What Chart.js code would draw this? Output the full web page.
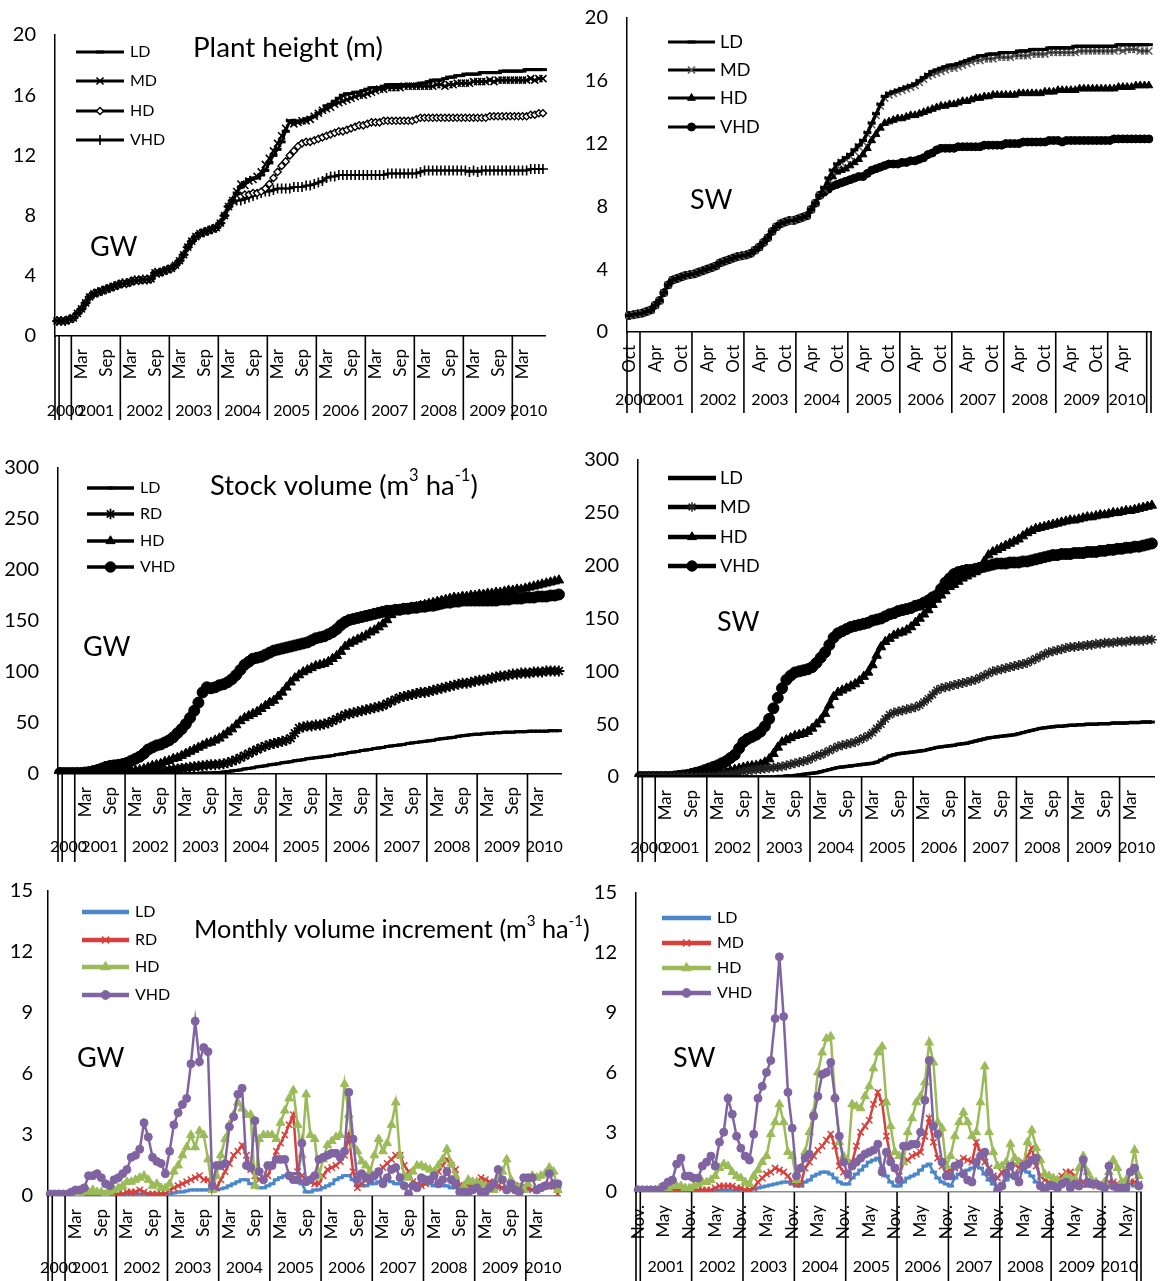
<!DOCTYPE html>
<html>
<head>
<meta charset="utf-8">
<title>Plant height, stock volume and monthly volume increment</title>
<script src="https://cdn.jsdelivr.net/npm/chart.js@4.4.1/dist/chart.umd.min.js"></script>
<style>
  html, body { margin: 0; padding: 0; background: #fff; }
  #wrap { position: relative; width: 1162px; height: 1281px; overflow: hidden; }
  #wrap canvas { position: absolute; }
</style>
</head>
<body>
<div id="wrap"></div>
<script>
// ---- axis categories ----
const monthNames = ['Jan', 'Feb', 'Mar', 'Apr', 'May', 'Jun', 'Jul', 'Aug', 'Sep', 'Oct', 'Nov', 'Dec'];
const years = ['2000', '2001', '2002', '2003', '2004', '2005', '2006', '2007', '2008', '2009', '2010'];
// [year label, first month (-1 = unnamed), number of months]
const gwGroups = [['', -1, 1], ['2000', 9, 3]].concat(years.slice(1, 10).map(y => [y, 0, 12]), [['2010', 0, 8]]);
const swHeightGroups = [['2000', 9, 3]].concat(years.slice(1, 10).map(y => [y, 0, 12]), [['2010', 0, 9], ['', -1, 1]]);
const swIncGroups = [['', 10, 1]].concat(years.slice(1, 10).map(y => [y, 11, 12]), [['2010', 11, 8], ['', -1, 1]]);
const gwTickText = { Mar: 'Mar', Sep: 'Sep' };
const swHeightTickText = { Apr: 'Apr', Oct: 'Oct' };
const swIncTickText = { May: 'May', Nov: 'Nov.' };

// ---- plant height, GW (m) ----
const gwHeightStart = [1.0, 1.0, 1.0, 1.1,
  1.2, 1.5, 1.8, 2.2, 2.6, 2.8, 2.9, 3.0, 3.1, 3.2, 3.3, 3.4,
  3.5, 3.5, 3.6, 3.7, 3.7, 3.75, 3.75, 3.8, 4.2, 4.2, 4.3, 4.4,
  4.5, 4.7, 5.0, 5.4, 5.9, 6.3, 6.6, 6.8, 6.9, 7.0, 7.1, 7.2,
  7.5, 8.0, 8.6, 9.0];
const gwHeightLD = gwHeightStart.concat([9.5, 9.9, 10.2, 10.4, 10.5, 10.5, 10.7, 11.0,
  11.5, 12.0, 12.4, 12.9, 13.6, 14.3, 14.3, 14.2, 14.3, 14.4, 14.5, 14.6,
  14.8, 15.0, 15.3, 15.4, 15.6, 15.8, 16.0, 16.1, 16.1, 16.2, 16.2, 16.3,
  16.4, 16.5, 16.5, 16.5, 16.6, 16.7, 16.7, 16.7, 16.7, 16.7, 16.7, 16.7,
  16.7, 16.8, 16.8, 16.9, 17.0, 17.0, 17.0, 17.1, 17.2, 17.2, 17.3, 17.3,
  17.4, 17.4, 17.4, 17.4, 17.5, 17.5, 17.5, 17.5, 17.5, 17.6, 17.6, 17.6,
  17.6, 17.6, 17.6, 17.7, 17.7, 17.7, 17.7, 17.7]);
const gwHeightMD = gwHeightStart.concat([9.6, 10.1, 10.0, 10.3, 10.4, 10.6, 10.9, 11.4,
  11.8, 12.3, 12.8, 13.3, 13.8, 14.2, 14.1, 14.2, 14.3, 14.3, 14.4, 14.6,
  14.8, 15.0, 15.1, 15.2, 15.4, 15.5, 15.6, 15.7, 15.8, 15.9, 16.0, 16.0,
  16.1, 16.2, 16.3, 16.4, 16.4, 16.5, 16.5, 16.5, 16.5, 16.6, 16.6, 16.6,
  16.6, 16.6, 16.6, 16.6, 16.6, 16.7, 16.7, 16.6, 16.7, 16.7, 16.8, 16.8,
  16.8, 16.8, 16.9, 16.9, 16.9, 16.9, 17.0, 16.9, 17.0, 17.0, 17.0, 17.0,
  17.0, 17.0, 17.0, 17.0, 17.1, 17.0, 17.1, 17.1]);
const gwHeightHD = gwHeightStart.concat([9.2, 9.3, 9.4, 9.4, 9.5, 9.5, 9.6, 9.8,
  10.1, 10.5, 10.9, 11.3, 11.6, 12.0, 12.3, 12.6, 12.8, 12.9, 12.9, 13.0,
  13.1, 13.2, 13.3, 13.4, 13.5, 13.6, 13.6, 13.7, 13.8, 13.9, 14.0, 14.0,
  14.1, 14.2, 14.2, 14.2, 14.3, 14.3, 14.3, 14.3, 14.3, 14.3, 14.3, 14.3,
  14.4, 14.5, 14.5, 14.5, 14.5, 14.5, 14.5, 14.5, 14.5, 14.5, 14.5, 14.5,
  14.5, 14.5, 14.5, 14.5, 14.5, 14.5, 14.6, 14.6, 14.6, 14.6, 14.6, 14.6,
  14.6, 14.6, 14.6, 14.6, 14.7, 14.7, 14.8, 14.8]);
const gwHeightVHD = gwHeightStart.concat([9.0, 9.0, 9.1, 9.2, 9.3, 9.4, 9.5, 9.6,
  9.6, 9.7, 9.8, 9.8, 9.8, 9.8, 9.9, 9.9, 9.9, 10.0, 10.0, 10.1,
  10.2, 10.3, 10.5, 10.6, 10.6, 10.7, 10.7, 10.7, 10.7, 10.7, 10.7, 10.7,
  10.7, 10.7, 10.7, 10.7, 10.7, 10.8, 10.8, 10.8, 10.8, 10.8, 10.8, 10.8,
  10.8, 10.9, 11.0, 11.0, 11.0, 11.0, 11.0, 11.0, 11.0, 11.0, 11.0, 11.0,
  11.0, 10.9, 11.0, 10.9, 11.0, 11.0, 11.0, 11.0, 11.0, 11.0, 11.0, 11.0,
  11.0, 11.0, 11.0, 11.0, 11.1, 11.1, 11.1, 11.1]);

// ---- plant height, SW (m) ----
const swHeightStart = [1.05, 1.1, 1.15,
  1.2, 1.3, 1.4, 1.7, 2.0, 2.5, 3.0, 3.3, 3.4, 3.5, 3.6, 3.65,
  3.7, 3.8, 3.9, 4.0, 4.1, 4.2, 4.4, 4.5, 4.6, 4.7, 4.8, 4.85,
  4.9, 5.0, 5.2, 5.4, 5.7, 6.0, 6.4, 6.7, 6.9, 7.0, 7.1, 7.1,
  7.2, 7.3, 7.4, 7.8, 8.2, 8.7];
const swHeightLD = swHeightStart.concat([9.2, 9.8, 10.3, 10.7, 10.9, 11.1,
  11.3, 11.6, 11.9, 12.2, 12.7, 13.3, 13.9, 14.5, 15.0, 15.2, 15.3, 15.4,
  15.5, 15.6, 15.7, 15.8, 16.0, 16.2, 16.4, 16.6, 16.7, 16.8, 16.9, 17.0,
  17.0, 17.1, 17.2, 17.3, 17.4, 17.5, 17.6, 17.6, 17.7, 17.7, 17.7, 17.8,
  17.8, 17.8, 17.8, 17.9, 17.9, 17.9, 18.0, 18.0, 18.0, 18.0, 18.1, 18.1,
  18.1, 18.1, 18.1, 18.1, 18.2, 18.2, 18.2, 18.2, 18.2, 18.2, 18.2, 18.2,
  18.2, 18.2, 18.3, 18.3, 18.3, 18.3, 18.3, 18.3, 18.3, 18.3]);
const swHeightMD = swHeightStart.concat([9.1, 9.7, 10.2, 10.6, 10.8, 11.0,
  11.2, 11.5, 11.8, 12.1, 12.6, 13.2, 13.8, 14.4, 14.9, 15.1, 15.2, 15.3,
  15.4, 15.5, 15.6, 15.7, 15.9, 16.1, 16.3, 16.4, 16.5, 16.6, 16.7, 16.8,
  16.8, 16.9, 17.0, 17.1, 17.2, 17.3, 17.3, 17.4, 17.4, 17.4, 17.5, 17.5,
  17.5, 17.5, 17.6, 17.6, 17.6, 17.6, 17.7, 17.7, 17.7, 17.7, 17.8, 17.8,
  17.8, 17.8, 17.8, 17.8, 17.8, 17.9, 17.9, 17.9, 17.9, 17.9, 17.9, 17.9,
  17.9, 17.9, 18.0, 17.9, 18.0, 18.0, 18.0, 17.9, 17.9, 17.9]);
const swHeightHD = swHeightStart.concat([9.0, 9.5, 9.9, 10.2, 10.3, 10.4,
  10.6, 10.8, 11.0, 11.3, 11.7, 12.2, 12.6, 13.0, 13.3, 13.4, 13.5, 13.6,
  13.6, 13.7, 13.8, 13.8, 13.9, 14.0, 14.1, 14.2, 14.3, 14.4, 14.4, 14.5,
  14.5, 14.6, 14.7, 14.7, 14.8, 14.9, 14.9, 15.0, 15.0, 15.1, 15.1, 15.1,
  15.1, 15.1, 15.1, 15.2, 15.2, 15.2, 15.2, 15.2, 15.2, 15.3, 15.3, 15.3,
  15.4, 15.4, 15.4, 15.4, 15.4, 15.5, 15.5, 15.5, 15.5, 15.5, 15.5, 15.5,
  15.5, 15.5, 15.6, 15.6, 15.6, 15.6, 15.7, 15.7, 15.7, 15.7]);
const swHeightVHD = swHeightStart.concat([8.9, 9.1, 9.3, 9.4, 9.5, 9.6,
  9.7, 9.8, 9.9, 9.9, 10.1, 10.3, 10.4, 10.5, 10.6, 10.7, 10.7, 10.7,
  10.8, 10.8, 10.9, 10.9, 11.0, 11.1, 11.3, 11.4, 11.6, 11.7, 11.7, 11.7,
  11.7, 11.8, 11.8, 11.8, 11.8, 11.8, 11.8, 11.9, 11.9, 11.9, 11.9, 11.9,
  12.0, 12.0, 12.0, 12.0, 12.1, 12.1, 12.1, 12.1, 12.1, 12.1, 12.2, 12.2,
  12.2, 12.1, 12.2, 12.2, 12.2, 12.2, 12.2, 12.2, 12.2, 12.2, 12.2, 12.2,
  12.2, 12.3, 12.3, 12.3, 12.3, 12.3, 12.3, 12.3, 12.3, 12.3]);

// ---- stock volume, GW (m3 ha-1) ----
const gwVolLD = [0, 0, 0, 0,
  0, 0, 0, 0, 0, 0, 0, 0, 0, 0, 0, 0,
  0, 0, 0, 0, 0, 0, 0, 0, 0, 0, 0, 0,
  0, 0, 0, 0.5, 0.5, 0.5, 1, 1, 1, 1.5, 1.5, 2,
  2.5, 3, 3.5, 4, 5, 5.5, 6, 7, 7.5, 8, 9, 9.5,
  10, 11, 11.5, 12, 13, 13.5, 14, 15, 15.5, 16, 16.5, 17,
  17.5, 18, 19, 19.5, 20, 21, 21.5, 22, 23, 23.5, 24, 25,
  25.5, 26, 27, 27.5, 28, 28.5, 29, 30, 30.5, 31, 31.5, 32,
  32.5, 33, 34, 34.5, 35, 35.5, 36, 37, 37.5, 38, 38.5, 39,
  39, 39.5, 40, 40, 40.5, 40.5, 41, 41, 41, 41.5, 41.5, 41.5,
  42, 42, 42, 42, 42, 42.5, 42.5, 42.5];
const gwVolRD = [0, 0, 0, 0,
  0, 0, 0, 0, 0, 0, 0, 0, 0, 0, 0.5, 0.5,
  0.5, 1, 1, 1.5, 2, 2, 2.5, 3, 3, 3.5, 4, 4.5,
  5, 5.5, 6, 6.5, 7, 7.5, 8, 8.5, 9, 9, 9.5, 10,
  11, 12.5, 14, 16, 18, 20, 22, 24, 26, 27.5, 29, 30,
  31, 32, 33, 35, 40, 45, 46, 47, 47, 48, 48, 49,
  50, 52, 54, 56, 58, 59, 60, 61, 62, 63, 64, 65,
  66, 67, 69, 71, 73, 75, 76, 77, 78, 79, 80, 80,
  81, 82, 83, 84, 85, 86, 87, 88, 89, 89, 90, 91,
  92, 92, 93, 94, 95, 96, 96, 97, 98, 98, 99, 99,
  99, 100, 100, 100, 101, 101, 101, 101];
const gwVolHD = [0, 0, 0, 0,
  0, 0, 0, 0, 0.5, 0.5, 1, 1, 1, 1.5, 1.5, 2,
  2.5, 3, 3.5, 4, 5, 6.5, 8, 9, 10, 12, 13, 15,
  16, 18, 20, 22, 24, 26, 28, 30, 31, 33, 35, 38,
  41, 44, 48, 52, 55, 57, 59, 61, 64, 67, 70, 72,
  76, 80, 85, 90, 94, 97, 100, 102, 104, 106, 107, 108,
  110, 113, 116, 120, 125, 128, 130, 132, 134, 136, 139, 141,
  144, 147, 151, 156, 160, 161, 162, 162, 163, 164, 165, 166,
  167, 168, 169, 170, 171, 172, 173, 173, 174, 174, 175, 175,
  176, 176, 177, 177, 178, 178, 179, 180, 180, 181, 181, 182,
  183, 184, 185, 186, 187, 188, 189, 190];
const gwVolVHD = [1, 1, 1, 1,
  1, 1, 1.5, 2, 3, 4, 5.5, 7, 8, 8.5, 9, 9.8,
  11, 13, 15, 17, 20, 24, 26, 28, 29, 31, 33, 36,
  40, 44, 49, 55, 62, 70, 80, 85, 84, 85, 87, 88,
  90, 93, 97, 102, 107, 110, 113, 114, 115, 117, 119, 121,
  122, 123, 124, 125, 126, 127, 128, 129, 131, 133, 134, 135,
  137, 139, 142, 146, 149, 151, 152, 153, 154, 155, 156, 157,
  158, 159, 160, 160, 161, 161, 162, 162, 163, 163, 164, 164,
  165, 165, 166, 167, 168, 168, 169, 169, 170, 170, 170, 170,
  170, 170, 170, 170, 170, 171, 171, 171, 172, 172, 172, 173,
  173, 173, 174, 174, 174, 175, 175, 176];

// ---- stock volume, SW (m3 ha-1) ----
const swVolLD = [0, 0, 0, 0,
  0, 0, 0, 0, 0, 0, 0, 0, 0, 0, 0, 0,
  0, 0, 0, 0, 0, 0, 0, 0, 0, 0, 0, 0,
  0, 0, 0, 0, 0.5, 0.5, 1, 1, 1.5, 2, 2.5, 3,
  3.5, 4, 5, 6, 7, 8, 9, 9.5, 10, 10.5, 11, 11.5,
  12, 12.5, 13, 14, 16, 18, 20, 21, 22, 22.5, 23, 23.5,
  24, 24.5, 25, 26, 27, 28, 28.5, 29, 29.5, 30, 31, 31.5,
  32, 33, 34, 35, 36, 37, 37.5, 38, 38.5, 39, 39.5, 40,
  41, 42, 43, 44, 45, 46, 46.5, 47, 47.5, 48, 48, 48.5,
  49, 49, 49.5, 49.5, 50, 50, 50, 50.5, 50.5, 50.5, 51, 51,
  51, 51, 51.5, 51.5, 51.5, 52, 52, 52];
const swVolMD = [0, 0, 0, 0,
  0, 0, 0, 0, 0, 0, 0, 0, 0, 0, 0, 0,
  0.5, 0.5, 1, 1.5, 2, 2.5, 3, 4, 5, 6, 6.5, 7,
  7.5, 8, 8.5, 9, 9.5, 10, 11, 12, 13, 14, 15, 16,
  18, 20, 21, 23, 25, 27, 29, 30, 31, 32, 33, 35,
  37, 39, 42, 46, 50, 55, 59, 61, 62, 63, 64, 65,
  66, 68, 71, 74, 78, 82, 84, 85, 86, 87, 88, 89,
  90, 91, 92, 94, 96, 98, 100, 101, 102, 103, 104, 105,
  106, 107, 108, 110, 112, 114, 116, 118, 119, 120, 121, 122,
  123, 123, 124, 124, 125, 125, 126, 126, 127, 127, 127, 128,
  128, 128, 129, 129, 129, 129, 130, 130];
const swVolHD = [0, 0, 0, 0,
  0, 0, 0, 0, 0, 0, 0.5, 0.5, 1, 1, 1.5, 2,
  2.5, 3, 3.5, 4, 5, 6, 7, 8, 9, 10, 10.5, 11,
  12, 14, 17, 22, 28, 33, 35, 37, 39, 40, 41, 43,
  46, 50, 54, 60, 68, 76, 80, 82, 84, 86, 88, 91,
  95, 99, 106, 115, 123, 128, 131, 134, 136, 137, 139, 142,
  146, 150, 154, 158, 163, 168, 172, 176, 180, 182, 185, 188,
  190, 192, 194, 198, 204, 210, 213, 215, 217, 219, 221, 223,
  225, 228, 231, 233, 235, 236, 237, 238, 239, 240, 241, 242,
  243, 243, 244, 245, 246, 246, 247, 248, 248, 249, 250, 250,
  251, 252, 252, 253, 254, 255, 256, 257];
const swVolVHD = [0, 0, 0, 0,
  0, 0, 0, 0, 0.5, 1, 1.5, 2, 3, 4, 5, 6.5,
  8, 9.5, 11, 13, 15, 18, 21, 27, 33, 36, 38, 40,
  43, 48, 55, 65, 75, 84, 92, 96, 99, 100, 101, 102,
  104, 108, 113, 118, 125, 132, 136, 138, 140, 142, 143, 144,
  145, 146, 148, 149, 150, 152, 154, 155, 157, 158, 159, 160,
  162, 163, 165, 167, 170, 172, 178, 184, 188, 192, 194, 195,
  196, 196, 197, 198, 199, 200, 201, 202, 202, 202, 203, 203,
  203, 204, 204, 205, 206, 207, 208, 209, 210, 210, 211, 211,
  211, 212, 212, 212, 213, 213, 213, 214, 214, 215, 215, 216,
  216, 217, 217, 218, 218, 219, 220, 221];

// ---- monthly volume increment, GW (m3 ha-1) ----
const gwIncLD = [0.05, 0.05, 0.05, 0.05,
  0.05, 0.05, 0.05, 0.05, 0.05, 0.05, 0.05, 0.05, 0.05, 0.05, 0.05, 0.05,
  0.05, 0.05, 0.1, 0.1, 0.1, 0.1, 0.1, 0.1, 0.1, 0.1, 0.1, 0.1,
  0.1, 0.15, 0.2, 0.2, 0.25, 0.3, 0.3, 0.3, 0.3, 0.3, 0.3, 0.3,
  0.35, 0.4, 0.5, 0.6, 0.7, 0.8, 0.8, 0.6, 0.5, 0.4, 0.4, 0.5,
  0.6, 0.8, 0.9, 1.0, 1.1, 1.1, 1.1, 0.6, 0.2, 0.2, 0.3, 0.3,
  0.4, 0.5, 0.6, 0.8, 0.9, 1.0, 1.0, 0.8, 0.5, 0.5, 0.5, 0.6,
  0.6, 0.7, 0.8, 0.8, 0.7, 0.6, 0.6, 0.5, 0.5, 0.5, 0.6, 0.6,
  0.6, 0.6, 0.5, 0.5, 0.5, 0.5, 0.4, 0.4, 0.3, 0.3, 0.3, 0.3,
  0.3, 0.3, 0.3, 0.3, 0.3, 0.4, 0.4, 0.4, 0.3, 0.3, 0.3, 0.3,
  0.3, 0.3, 0.4, 0.4, 0.4, 0.4, 0.4, 0.4];
const gwIncRD = [0.05, 0.05, 0.05, 0.05,
  0.05, 0.05, 0.1, 0.1, 0.1, 0.1, 0.1, 0.1, 0.1, 0.1, 0.1, 0.1,
  0.1, 0.1, 0.2, 0.2, 0.2, 0.3, 0.2, 0.1, 0.1, 0.1, 0.1, 0.1,
  0.3, 0.4, 0.5, 0.6, 0.7, 0.8, 0.9, 1.0, 0.8, 0.8, 0.5, 0.4,
  0.8, 1.2, 1.6, 2.0, 2.2, 2.5, 2.0, 1.3, 1.0, 0.8, 0.9, 1.0,
  1.5, 2.2, 2.6, 3.0, 3.5, 4.0, 1.2, 1.0, 0.8, 0.7, 0.6, 0.6,
  1.0, 1.3, 1.4, 1.5, 1.7, 2.0, 3.0, 1.2, 0.4, 0.6, 0.8, 1.0,
  1.1, 1.2, 1.4, 1.6, 1.8, 2.0, 2.0, 1.5, 1.2, 0.7, 0.6, 0.5,
  0.6, 0.8, 0.9, 1.2, 1.5, 1.8, 1.5, 1.3, 0.5, 0.5, 0.5, 0.5,
  0.6, 0.9, 0.8, 0.7, 0.6, 0.5, 0.4, 0.4, 0.4, 0.5, 0.5, 0.5,
  0.4, 0.3, 0.3, 0.4, 0.5, 0.6, 0.5, 0.1];
const gwIncHD = [0.05, 0.05, 0.05, 0.05,
  0.05, 0.1, 0.1, 0.1, 0.2, 0.2, 0.3, 0.2, 0.2, 0.1, 0.2, 0.3,
  0.4, 0.5, 0.7, 0.7, 0.8, 0.9, 1.0, 0.8, 0.5, 0.6, 0.4, 0.4,
  0.6, 1.2, 1.5, 2.0, 2.4, 3.0, 2.4, 3.2, 3.0, 1.8, 0.3, 1.0,
  2.0, 2.8, 3.5, 4.0, 4.6, 4.3, 4.0, 4.0, 0.5, 2.8, 3.0, 3.0,
  3.0, 2.8, 3.6, 4.2, 4.8, 5.2, 3.5, 2.0, 5.0, 3.0, 2.8, 1.0,
  1.8, 2.5, 2.7, 2.9, 3.0, 5.5, 4.0, 2.5, 2.2, 1.7, 1.5, 1.2,
  2.0, 2.8, 2.2, 2.6, 3.5, 4.6, 2.0, 1.0, 0.9, 1.2, 1.5, 1.5,
  1.4, 1.3, 1.2, 1.5, 1.8, 2.3, 1.6, 1.0, 0.0, 0.5, 0.8, 0.7,
  0.7, 0.6, 0.5, 0.4, 0.3, 0.8, 1.2, 1.8, 0.8, 0.5, 0.4, 0.3,
  0.6, 1.0, 0.9, 1.0, 1.1, 1.4, 1.2, 0.3];
const gwIncVHD = [0.1, 0.1, 0.1, 0.1,
  0.1, 0.2, 0.3, 0.3, 0.4, 1.0, 1.0, 1.1, 0.9, 0.6, 0.5, 0.8,
  0.9, 1.1, 1.3, 1.9, 2.0, 2.3, 3.6, 2.9, 1.9, 1.7, 1.6, 1.1,
  2.2, 3.5, 4.1, 4.5, 4.8, 6.5, 8.6, 6.6, 7.3, 7.1, 0.5, 1.5,
  1.5, 1.6, 3.4, 3.9, 5.0, 5.3, 1.5, 1.4, 3.7, 1.2, 0.8, 1.5,
  1.5, 1.8, 1.8, 1.8, 1.0, 0.8, 0.8, 2.6, 0.7, 0.8, 1.0, 1.8,
  1.9, 2.0, 2.1, 2.1, 1.9, 2.2, 5.1, 2.8, 0.8, 1.1, 0.9, 0.8,
  1.0, 1.2, 0.6, 0.9, 1.3, 1.4, 0.9, 0.5, 0.1, 0.5, 0.4, 0.9,
  0.8, 0.8, 1.0, 0.6, 0.8, 1.2, 0.8, 0.6, 0.2, 0.2, 0.2, 0.3,
  0.4, 0.2, 0.2, 0.4, 0.6, 1.3, 0.8, 0.3, 0.6, 0.3, 0.2, 0.9,
  0.9, 0.9, 0.3, 0.4, 0.5, 1.1, 0.6, 0.6];

// ---- monthly volume increment, SW (m3 ha-1) ----
const swIncLD = [0.05,
  0.05, 0.05, 0.05, 0.05, 0.05, 0.05, 0.05, 0.05, 0.05, 0.05, 0.05, 0.05,
  0.05, 0.05, 0.05, 0.05, 0.05, 0.05, 0.1, 0.1, 0.1, 0.1, 0.1, 0.1,
  0.1, 0.1, 0.15, 0.2, 0.25, 0.3, 0.35, 0.4, 0.45, 0.5, 0.5, 0.4,
  0.3, 0.3, 0.5, 0.6, 0.8, 0.9, 1.0, 1.0, 0.9, 0.7, 0.5, 0.4,
  0.4, 0.7, 0.9, 1.1, 1.3, 1.5, 1.6, 1.7, 1.2, 0.8, 0.5, 0.3,
  0.3, 0.5, 0.7, 0.8, 0.9, 1.1, 1.3, 1.4, 1.0, 0.7, 0.5, 0.4,
  0.3, 0.7, 0.9, 1.0, 1.1, 1.2, 1.3, 1.2, 0.9, 0.6, 0.4, 0.3,
  0.4, 0.6, 0.8, 0.9, 1.0, 1.1, 1.0, 0.8, 0.5, 0.4, 0.3, 0.3,
  0.3, 0.3, 0.4, 0.4, 0.4, 0.4, 0.3, 0.3, 0.3, 0.3, 0.3, 0.3,
  0.3, 0.3, 0.3, 0.4, 0.4, 0.4, 0.4, 0.3,
  0.3];
const swIncMD = [0.05,
  0.05, 0.05, 0.05, 0.05, 0.05, 0.05, 0.1, 0.1, 0.1, 0.1, 0.1, 0.1,
  0.1, 0.1, 0.1, 0.1, 0.1, 0.2, 0.3, 0.3, 0.3, 0.3, 0.2, 0.2,
  0.1, 0.1, 0.2, 0.5, 0.7, 0.9, 1.0, 1.2, 1.1, 1.0, 0.8, 0.5,
  0.4, 0.4, 1.2, 1.5, 1.8, 2.1, 2.3, 2.6, 2.9, 2.3, 1.3, 1.0,
  0.8, 1.5, 2.3, 3.0, 3.3, 3.6, 4.4, 5.0, 4.5, 2.8, 1.8, 1.2,
  0.8, 1.5, 1.6, 1.8, 1.9, 2.0, 2.8, 3.7, 2.5, 1.7, 1.3, 1.0,
  1.1, 1.2, 1.5, 1.7, 1.6, 1.5, 2.5, 2.0, 1.5, 1.2, 0.8, 0.7,
  1.0, 1.2, 1.4, 1.4, 1.2, 1.5, 1.8, 2.2, 1.3, 0.8, 0.6, 0.5,
  0.5, 0.6, 0.8, 1.0, 1.0, 0.8, 0.5, 0.5, 0.4, 0.4, 0.3, 0.3,
  0.4, 0.5, 0.5, 0.4, 0.4, 0.4, 0.5, 0.5,
  0.4];
const swIncHD = [0.1,
  0.1, 0.1, 0.1, 0.1, 0.2, 0.2, 0.2, 0.3, 0.3, 0.3, 0.2, 0.2,
  0.3, 0.4, 0.5, 0.5, 0.6, 0.8, 1.2, 1.4, 1.3, 1.0, 0.8, 0.7,
  0.5, 0.4, 0.8, 1.1, 1.5, 1.8, 2.9, 3.5, 4.4, 3.5, 2.0, 1.8,
  0.6, 1.2, 2.0, 3.0, 4.0, 6.0, 7.0, 7.7, 7.8, 4.8, 2.5, 1.8,
  1.5, 4.4, 4.3, 4.2, 4.8, 5.3, 6.2, 7.0, 7.3, 4.5, 3.3, 2.0,
  1.8, 1.5, 3.0, 3.7, 4.5, 4.8, 5.5, 7.5, 6.5, 3.5, 3.2, 1.3,
  1.8, 2.8, 3.5, 4.0, 3.5, 2.8, 3.0, 4.5, 6.3, 3.0, 2.0, 1.3,
  1.3, 1.5, 2.4, 1.7, 1.5, 1.3, 2.5, 3.1, 2.2, 1.6, 0.9, 0.8,
  0.7, 0.6, 0.5, 0.8, 0.7, 0.6, 1.2, 1.8, 1.0, 0.6, 0.5, 0.3,
  0.5, 1.0, 1.6, 1.2, 0.5, 0.6, 1.0, 2.1,
  0.8];
const swIncVHD = [0.1,
  0.1, 0.1, 0.1, 0.1, 0.1, 0.3, 0.5, 0.6, 1.4, 1.7, 0.8, 0.8,
  0.7, 0.7, 1.3, 1.5, 1.8, 1.3, 2.5, 3.0, 4.7, 3.9, 2.8, 2.2,
  1.8, 1.6, 2.9, 4.7, 5.3, 6.0, 6.6, 8.7, 11.8, 8.8, 5.0, 3.2,
  0.8, 1.2, 1.7, 1.9, 3.8, 4.8, 5.9, 6.0, 6.5, 4.7, 2.8, 1.5,
  0.9, 1.3, 1.5, 1.7, 1.9, 2.0, 2.1, 2.4, 1.0, 2.0, 1.5, 1.2,
  0.6, 2.3, 2.3, 2.4, 2.4, 3.0, 4.6, 6.6, 3.3, 2.9, 1.5, 0.8,
  0.8, 1.3, 1.4, 0.9, 0.6, 0.5, 1.5, 1.8, 2.0, 1.0, 0.7, 0.1,
  0.3, 0.9, 1.3, 0.8, 0.5, 1.3, 1.4, 1.6, 1.7, 0.3, 0.1, 0.3,
  0.3, 0.2, 0.4, 0.5, 0.2, 0.4, 0.3, 1.6, 0.5, 0.4, 0.4, 0.3,
  0.2, 1.3, 0.3, 0.2, 0.2, 0.2, 1.0, 1.2,
  0.3];

// ---- drawing ----
Chart.defaults.font.family = 'Lato, "Open Sans", sans-serif';
Chart.defaults.color = '#000';
const FONT = 'Lato, "Open Sans", sans-serif';
const black = '#000';
const cLD = '#4a86c8', cRD = '#d7403c', cHD = '#9bbb59', cVHD = '#8064a2';

function buildCategories(groups) {
  const labels = [], spans = [];
  groups.forEach(([year, m0, n]) => {
    spans.push({ year, start: labels.length, count: n });
    for (let k = 0; k < n; k++) labels.push(m0 < 0 ? '' : monthNames[(m0 + k) % 12]);
  });
  return { labels, spans };
}

function series(label, data, s) {
  return {
    label, data,
    borderColor: s.color, borderWidth: s.width,
    pointStyle: s.style, pointRadius: s.r, pointBorderWidth: s.bw,
    pointBackgroundColor: s.fill || s.mark || s.color,
    pointBorderColor: s.mark || s.color,
    order: s.order || 0, tension: 0, fill: false
  };
}

function richRun(ctx, parts, x, y, size, draw) {
  let cx = x;
  parts.forEach(pt => {
    const s = pt.sup ? size * 0.6 : size;
    ctx.font = s + 'px ' + FONT;
    if (draw) ctx.fillText(pt.t, cx, pt.sup ? y - size * 0.36 : y);
    cx += ctx.measureText(pt.t).width;
  });
  return cx - x;
}

const panels = [
  { // plant height GW
    L: 55, R: 545, T: 35, B: 336, yearY: 411, sepEnd: 420, groups: gwGroups, tickText: gwTickText,
    yMax: 20, yStep: 4, xAxisColor: black, closeEnd: false,
    title: { parts: [{ t: 'Plant height (m)' }], x: 193, y: 48, w: 190, size: 26 },
    site: { t: 'GW', x: 90, y: 247 },
    legend: { x1: 76, x2: 124, tx: 130, ys: [52, 81, 111, 140], size: 16, lw: 3, ms: 1 },
    datasets: [
      series('LD', gwHeightLD, { color: black, width: 2.6, style: 'line', r: 4, bw: 3 }),
      series('MD', gwHeightMD, { color: black, width: 2, style: 'crossRot', r: 5, bw: 1.6 }),
      series('HD', gwHeightHD, { color: black, width: 2, style: 'rectRot', r: 3.6, bw: 1.4, fill: '#fff' }),
      series('VHD', gwHeightVHD, { color: black, width: 2, style: 'cross', r: 5, bw: 1.6 })
    ]
  },
  { // plant height SW
    L: 627, R: 1151, T: 18, B: 332, yearY: 400, sepEnd: 413, groups: swHeightGroups, tickText: swHeightTickText,
    yMax: 20, yStep: 4, xAxisColor: black, closeEnd: true,
    site: { t: 'SW', x: 690, y: 200 },
    legend: { x1: 668, x2: 715, tx: 720, ys: [42, 70, 98, 127], size: 18, lw: 3, ms: 1 },
    datasets: [
      series('LD', swHeightLD, { color: black, width: 3, style: 'line', r: 4, bw: 3 }),
      series('MD', swHeightMD, { color: black, width: 2.5, style: 'crossRot', r: 5, bw: 1.5, mark: '#555' }),
      series('HD', swHeightHD, { color: black, width: 2.5, style: 'triangle', r: 4.5, bw: 1 }),
      series('VHD', swHeightVHD, { color: black, width: 2.5, style: 'circle', r: 4, bw: 1 })
    ]
  },
  { // stock volume GW
    L: 58, R: 561, T: 468, B: 774, yearY: 847, sepEnd: 862, groups: gwGroups, tickText: gwTickText,
    yMax: 300, yStep: 50, xAxisColor: black, closeEnd: false,
    title: { parts: [{ t: 'Stock volume (m' }, { t: '3', sup: true }, { t: ' ha' }, { t: '-1', sup: true }, { t: ')' }], x: 210, y: 486, w: 268, size: 25 },
    site: { t: 'GW', x: 83, y: 647 },
    legend: { x1: 87, x2: 134, tx: 140, ys: [488, 514, 541, 567], size: 16, lw: 3.5, ms: 0.95 },
    datasets: [
      series('LD', gwVolLD, { color: black, width: 3, style: 'line', r: 3, bw: 3 }),
      series('RD', gwVolRD, { color: black, width: 3, style: 'star', r: 5.5, bw: 1.8 }),
      series('HD', gwVolHD, { color: black, width: 3.5, style: 'triangle', r: 5.5, bw: 1 }),
      series('VHD', gwVolVHD, { color: black, width: 3.5, style: 'circle', r: 5.5, bw: 1 })
    ]
  },
  { // stock volume SW
    L: 638, R: 1154, T: 460, B: 777, yearY: 848, sepEnd: 862, groups: gwGroups, tickText: gwTickText,
    yMax: 300, yStep: 50, xAxisColor: black, closeEnd: false,
    site: { t: 'SW', x: 717, y: 622 },
    legend: { x1: 668, x2: 716, tx: 720, ys: [478, 507, 537, 566], size: 18, lw: 4.5, ms: 0.95 },
    datasets: [
      series('LD', swVolLD, { color: black, width: 3.5, style: 'line', r: 3, bw: 3 }),
      series('MD', swVolMD, { color: black, width: 3.5, style: 'star', r: 5, bw: 1.5, mark: '#222' }),
      series('HD', swVolHD, { color: black, width: 3.5, style: 'triangle', r: 5.5, bw: 1 }),
      series('VHD', swVolVHD, { color: black, width: 3.5, style: 'circle', r: 5.5, bw: 1 })
    ]
  },
  { // monthly increment GW
    L: 48, R: 560, T: 891, B: 1196, yearY: 1268, sepEnd: 1281, groups: gwGroups, tickText: gwTickText,
    yMax: 15, yStep: 3, xAxisColor: '#8c8c8c', closeEnd: false, padR: 45, yPad: 15,
    title: { parts: [{ t: 'Monthly volume increment (m' }, { t: '3', sup: true }, { t: ' ha' }, { t: '-1', sup: true }, { t: ')' }], x: 194, y: 930, w: 396, size: 24 },
    site: { t: 'GW', x: 77, y: 1058 },
    legend: { x1: 82, x2: 129, tx: 135, ys: [912, 940, 967, 995], size: 16, lw: 4.5, ms: 1.1 },
    datasets: [
      series('LD', gwIncLD, { color: cLD, width: 2.5, style: 'line', r: 3.5, bw: 3, order: 4 }),
      series('RD', gwIncRD, { color: cRD, width: 2.5, style: 'crossRot', r: 4.5, bw: 1.5, order: 3 }),
      series('HD', gwIncHD, { color: cHD, width: 2.5, style: 'triangle', r: 5, bw: 1, order: 2 }),
      series('VHD', gwIncVHD, { color: cVHD, width: 2.5, style: 'circle', r: 4, bw: 1, order: 1 })
    ]
  },
  { // monthly increment SW
    L: 636, R: 1141, T: 893, B: 1192, yearY: 1267, sepEnd: 1281, groups: swIncGroups, tickText: swIncTickText,
    yMax: 15, yStep: 3, xAxisColor: '#8c8c8c', closeEnd: true,
    site: { t: 'SW', x: 673, y: 1058 },
    legend: { x1: 662, x2: 711, tx: 717, ys: [918, 943, 968, 993], size: 16, lw: 4.5, ms: 1.1 },
    datasets: [
      series('LD', swIncLD, { color: cLD, width: 2.5, style: 'line', r: 3.5, bw: 3, order: 4 }),
      series('MD', swIncMD, { color: cRD, width: 2.5, style: 'crossRot', r: 4.5, bw: 1.5, order: 3 }),
      series('HD', swIncHD, { color: cHD, width: 2.5, style: 'triangle', r: 5, bw: 1, order: 2 }),
      series('VHD', swIncVHD, { color: cVHD, width: 2.5, style: 'circle', r: 4, bw: 1, order: 1 })
    ]
  }
];

function makePanel(p) {
  const padL = 60, padT = 20, padR = p.padR || 15, padB = p.sepEnd - p.B + 2;
  const left = p.L - padL, top = p.T - padT;
  const cv = document.createElement('canvas');
  cv.width = p.R - p.L + padL + padR;
  cv.height = p.B - p.T + padT + padB;
  cv.style.left = left + 'px';
  cv.style.top = top + 'px';
  document.getElementById('wrap').appendChild(cv);
  const cats = buildCategories(p.groups);

  const decor = {
    id: 'decor',
    afterDraw(chart) {
      const ctx = chart.ctx, xs = chart.scales.x;
      const step = xs.getPixelForValue(1) - xs.getPixelForValue(0);
      const edge = i => xs.getPixelForValue(i) - step / 2;
      const yb = chart.chartArea.bottom, ye = p.sepEnd - top;
      ctx.save();
      // year groups under the month labels
      ctx.strokeStyle = black;
      ctx.lineWidth = 1.6;
      ctx.fillStyle = black;
      ctx.font = '16px ' + FONT;
      ctx.textAlign = 'center';
      ctx.textBaseline = 'middle';
      const vline = x => { ctx.beginPath(); ctx.moveTo(x, yb); ctx.lineTo(x, ye); ctx.stroke(); };
      cats.spans.forEach(s => {
        const x0 = edge(s.start);
        vline(x0);
        if (s.year) ctx.fillText(s.year, x0 + s.count * step / 2, p.yearY - top);
      });
      if (p.closeEnd) vline(edge(cats.labels.length));

      // legend inside the plot
      const lg = p.legend;
      chart.data.datasets.forEach((ds, k) => {
        const y = lg.ys[k] - top;
        ctx.strokeStyle = ds.borderColor;
        ctx.lineWidth = lg.lw;
        ctx.beginPath();
        ctx.moveTo(lg.x1 - left, y);
        ctx.lineTo(lg.x2 - left, y);
        ctx.stroke();
        ctx.fillStyle = ds.pointBackgroundColor;
        ctx.strokeStyle = ds.pointBorderColor;
        ctx.lineWidth = ds.pointBorderWidth;
        Chart.helpers.drawPoint(ctx, { pointStyle: ds.pointStyle, radius: ds.pointRadius * lg.ms, rotation: 0, borderWidth: ds.pointBorderWidth },
          (lg.x1 + lg.x2) / 2 - left, y);
        ctx.fillStyle = black;
        ctx.font = lg.size + 'px ' + FONT;
        ctx.textAlign = 'left';
        ctx.fillText(ds.label, lg.tx - left, y);
      });

      // panel title and site label
      ctx.fillStyle = black;
      ctx.textAlign = 'left';
      ctx.textBaseline = 'middle';
      if (p.title) {
        const t = p.title;
        const w = richRun(ctx, t.parts, 0, 0, t.size, false);
        richRun(ctx, t.parts, t.x - left, t.y - top, t.size * t.w / w, true);
      }
      ctx.font = '27px ' + FONT;
      ctx.fillText(p.site.t, p.site.x - left, p.site.y - top);
      ctx.restore();
    }
  };

  new Chart(cv, {
    type: 'line',
    data: { labels: cats.labels, datasets: p.datasets },
    options: {
      responsive: false,
      animation: false,
      devicePixelRatio: 1,
      events: [],
      layout: { padding: { left: 0, top: padT, right: padR, bottom: 0 } },
      plugins: { legend: { display: false }, tooltip: { enabled: false } },
      scales: {
        x: {
          type: 'category',
          offset: true,
          grid: { display: false, drawTicks: false },
          border: { display: true, color: p.xAxisColor, width: 1.5 },
          ticks: {
            autoSkip: false, minRotation: 90, maxRotation: 90, padding: 13,
            font: { size: 17 }, color: black,
            callback(v) { return p.tickText[this.getLabelForValue(v)] || ''; }
          },
          afterFit(s) { s.height = padB; s.paddingLeft = 0; s.paddingRight = 0; }
        },
        y: {
          min: 0, max: p.yMax,
          grid: { display: false, drawTicks: false },
          border: { display: true, color: black, width: 1.5 },
          ticks: { stepSize: p.yStep, padding: p.yPad || 19, font: { size: 20 }, color: black },
          afterFit(s) { s.width = padL; s.paddingTop = 0; s.paddingBottom = 0; }
        }
      }
    },
    plugins: [decor]
  });
}

panels.forEach(makePanel);
</script>
</body>
</html>
